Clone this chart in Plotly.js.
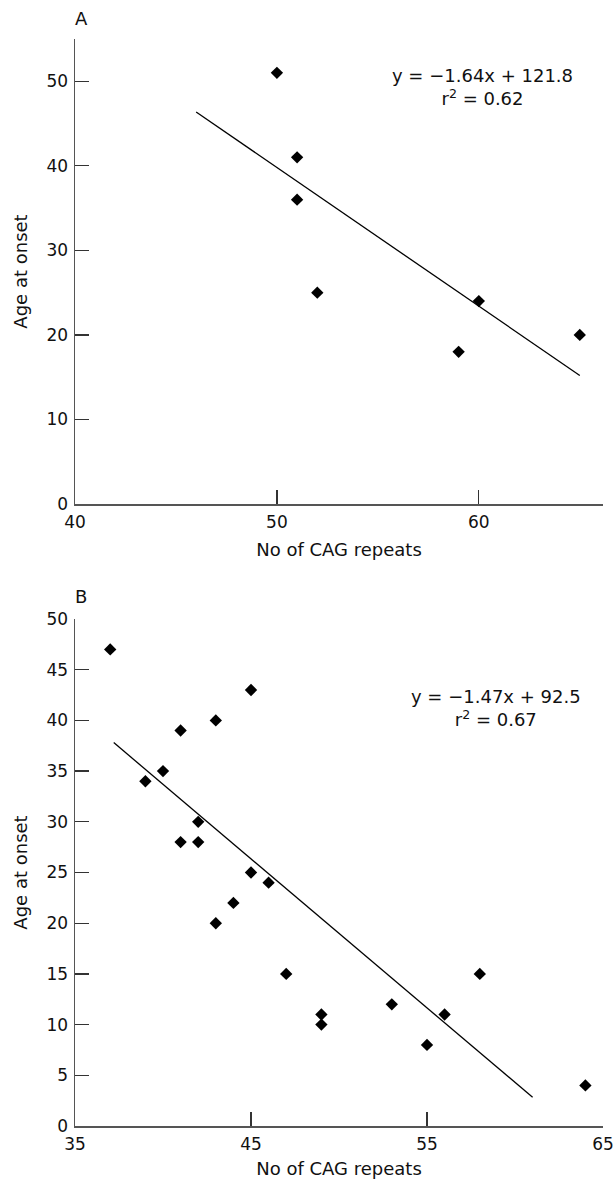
<!DOCTYPE html>
<html>
<head>
<meta charset="utf-8">
<script src="https://cdn.plot.ly/plotly-3.0.1.min.js"></script>
<style>html,body{margin:0;padding:0;background:#fff;}#chart{width:616px;height:1179px;}</style>
</head>
<body>
<div id="chart"></div>
<script>
// Panel A data
const cagA = [50, 51, 51, 52, 59, 60, 65];
const onsetA = [51, 41, 36, 25, 18, 24, 20];
const fitRangeA = [46, 65];
const slopeA = -1.64, interceptA = 121.8;
const eqA = 'y = \u22121.64x + 121.8';
const r2A = '0.62';

// Panel B data
const cagB = [37, 39, 40, 41, 43, 45, 42, 41, 42, 45, 46, 44, 43, 47, 49, 49, 53, 55, 56, 58, 64];
const onsetB = [47, 34, 35, 39, 40, 43, 30, 28, 28, 25, 24, 22, 20, 15, 11, 10, 12, 8, 11, 15, 4];
const fitRangeB = [37.2, 61];
const slopeB = -1.47, interceptB = 92.5;
const eqB = 'y = \u22121.47x + 92.5';
const r2B = '0.67';

const ticksAx = [40, 50, 60];
const ticksAy = [0, 10, 20, 30, 40, 50];
const ticksBx = [35, 45, 55, 65];
const ticksBy = [0, 5, 10, 15, 20, 25, 30, 35, 40, 45, 50];

const FONT = 'DejaVu Sans, sans-serif';
const fitY = (xs, m, c) => xs.map(x => m * x + c);

const marker = {symbol: 'diamond', size: 9.5, color: '#000'};
const traces = [
  {x: cagA, y: onsetA, type: 'scatter', mode: 'markers', marker: marker, xaxis: 'x', yaxis: 'y', cliponaxis: false},
  {x: fitRangeA, y: fitY(fitRangeA, slopeA, interceptA), type: 'scatter', mode: 'lines', line: {color: '#000', width: 1.3}, xaxis: 'x', yaxis: 'y'},
  {x: cagB, y: onsetB, type: 'scatter', mode: 'markers', marker: marker, xaxis: 'x2', yaxis: 'y2', cliponaxis: false},
  {x: fitRangeB, y: fitY(fitRangeB, slopeB, interceptB), type: 'scatter', mode: 'lines', line: {color: '#000', width: 1.3}, xaxis: 'x2', yaxis: 'y2'}
];

const axBase = {
  showline: true, linecolor: '#555', linewidth: 1.5,
  ticks: 'inside', ticklen: 14, tickwidth: 1.3, tickcolor: '#333',
  showgrid: false, zeroline: false,
  tickfont: {family: FONT, size: 17, color: '#111'},
  tickmode: 'array', fixedrange: true
};
const titleFont = {family: FONT, size: 18, color: '#111'};

const layout = {
  width: 616, height: 1179,
  margin: {l: 75, r: 13, t: 39, b: 53},
  paper_bgcolor: '#fff', plot_bgcolor: '#fff',
  showlegend: false,
  xaxis: Object.assign({}, axBase, {
    domain: [0, 1], anchor: 'y', range: [40, 66.15], tickvals: ticksAx, ticklabelstandoff: 2,
    title: {text: 'No of CAG repeats', font: titleFont, standoff: 12}
  }),
  yaxis: Object.assign({}, axBase, {
    domain: [0.5722, 1], anchor: 'x', range: [0, 55], tickvals: ticksAy, ticklabelstandoff: 2,
    title: {text: 'Age at onset', font: titleFont, standoff: 14}
  }),
  xaxis2: Object.assign({}, axBase, {
    domain: [0, 1], anchor: 'y2', range: [35, 65], tickvals: ticksBx, ticklabelstandoff: 2,
    title: {text: 'No of CAG repeats', font: titleFont, standoff: 12}
  }),
  yaxis2: Object.assign({}, axBase, {
    domain: [0, 0.4664], anchor: 'x2', range: [0, 50], tickvals: ticksBy, ticklabelstandoff: 2,
    title: {text: 'Age at onset', font: titleFont, standoff: 14}
  }),
  annotations: [
    {text: 'A', xref: 'paper', yref: 'paper', x: 0.012, y: 1.0184, xanchor: 'center', yanchor: 'middle', showarrow: false, font: {family: FONT, size: 18, color: '#111'}},
    {text: 'B', xref: 'paper', yref: 'paper', x: 0.012, y: 0.4867, xanchor: 'center', yanchor: 'middle', showarrow: false, font: {family: FONT, size: 18, color: '#111'}},
    {text: eqA + '<br>r<sup>2</sup> = ' + r2A, xref: 'x', yref: 'y', x: 60.2, y: 49.3, xanchor: 'center', yanchor: 'middle', align: 'center', showarrow: false, font: {family: FONT, size: 18, color: '#111'}},
    {text: eqB + '<br>r<sup>2</sup> = ' + r2B, xref: 'x2', yref: 'y2', x: 58.9, y: 41.2, xanchor: 'center', yanchor: 'middle', align: 'center', showarrow: false, font: {family: FONT, size: 18, color: '#111'}}
  ]
};

Plotly.newPlot('chart', traces, layout, {displayModeBar: false, staticPlot: true});
</script>
</body>
</html>
